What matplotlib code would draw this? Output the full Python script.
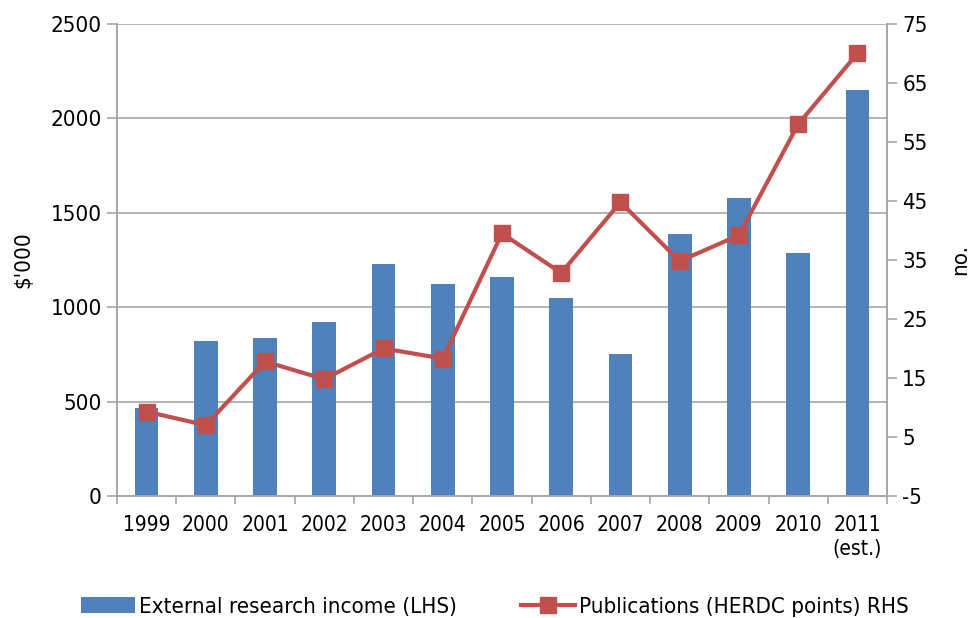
import matplotlib.pyplot as plt
import numpy as np

plt.rcParams['font.family'] = ['DejaVu Sans']
plt.rcParams['font.stretch'] = 'condensed'
plt.rcParams['axes.unicode_minus'] = False

YEARS = ['1999', '2000', '2001', '2002', '2003', '2004', '2005', '2006',
         '2007', '2008', '2009', '2010', '2011\n(est.)']
INCOME = [467, 821, 839, 923, 1227, 1121, 1158, 1049, 752, 1386, 1577, 1289, 2150]
PUBS = [9.3, 7.0, 17.8, 14.8, 20.0, 18.3, 39.5, 32.8, 44.8, 34.8, 39.2, 58.0, 70.0]

BLUE = '#4F81BD'
RED = '#C0504D'
GRID = '#A6A6A6'

fig = plt.figure(figsize=(9.71, 6.18), dpi=100)
ax = fig.add_axes([0.1205, 0.1974, 0.7930, 0.7638])
ax2 = ax.twinx()

x = np.arange(len(YEARS))
ax.bar(x, INCOME, width=0.4, color=BLUE, zorder=2, label='External research income (LHS)')
ax2.plot(x, PUBS, color=RED, lw=3, marker='s', ms=11, zorder=3,
         label='Publications (HERDC points) RHS')

ax.set_xlim(-0.5, len(YEARS) - 0.5)
ax.set_ylim(0, 2500)
ax.set_yticks(np.arange(0, 2501, 500))
ax2.set_ylim(-5, 75)
ax2.set_yticks(np.arange(-5, 76, 10))

ax.grid(axis='y', color=GRID, lw=1.2, zorder=0)
ax.set_axisbelow(True)

# x ticks sit between categories, labels at centres
ax.set_xticks(np.arange(-0.5, len(YEARS), 1.0))
ax.set_xticklabels([])
ax.set_xticks(x, minor=True)
ax.set_xticklabels(YEARS, minor=True, fontsize=15)
ax.tick_params(axis='x', which='minor', length=0, pad=14)
ax.tick_params(axis='x', which='major', length=6, color=GRID, width=1.2)

ax.tick_params(axis='y', labelsize=16, length=7, color=GRID, width=1.2, pad=4)
ax2.tick_params(axis='y', labelsize=16, length=7, color=GRID, width=1.2, pad=4)

for a in (ax, ax2):
    a.spines['top'].set_visible(False)
    for s in ('left', 'right', 'bottom'):
        a.spines[s].set_color(GRID)
        a.spines[s].set_linewidth(1.2)

ax.set_ylabel("$'000", fontsize=16, labelpad=12)
ax2.set_ylabel('no.', fontsize=16, labelpad=16)

h1, l1 = ax.get_legend_handles_labels()
h2, l2 = ax2.get_legend_handles_labels()
fig.legend(h1 + h2, l1 + l2, loc='lower center', ncol=2, frameon=False,
           fontsize=16, bbox_to_anchor=(0.51, -0.03), columnspacing=2.9,
           handlelength=2.4, handletextpad=0.2)

fig.savefig('out.png', dpi=100)
